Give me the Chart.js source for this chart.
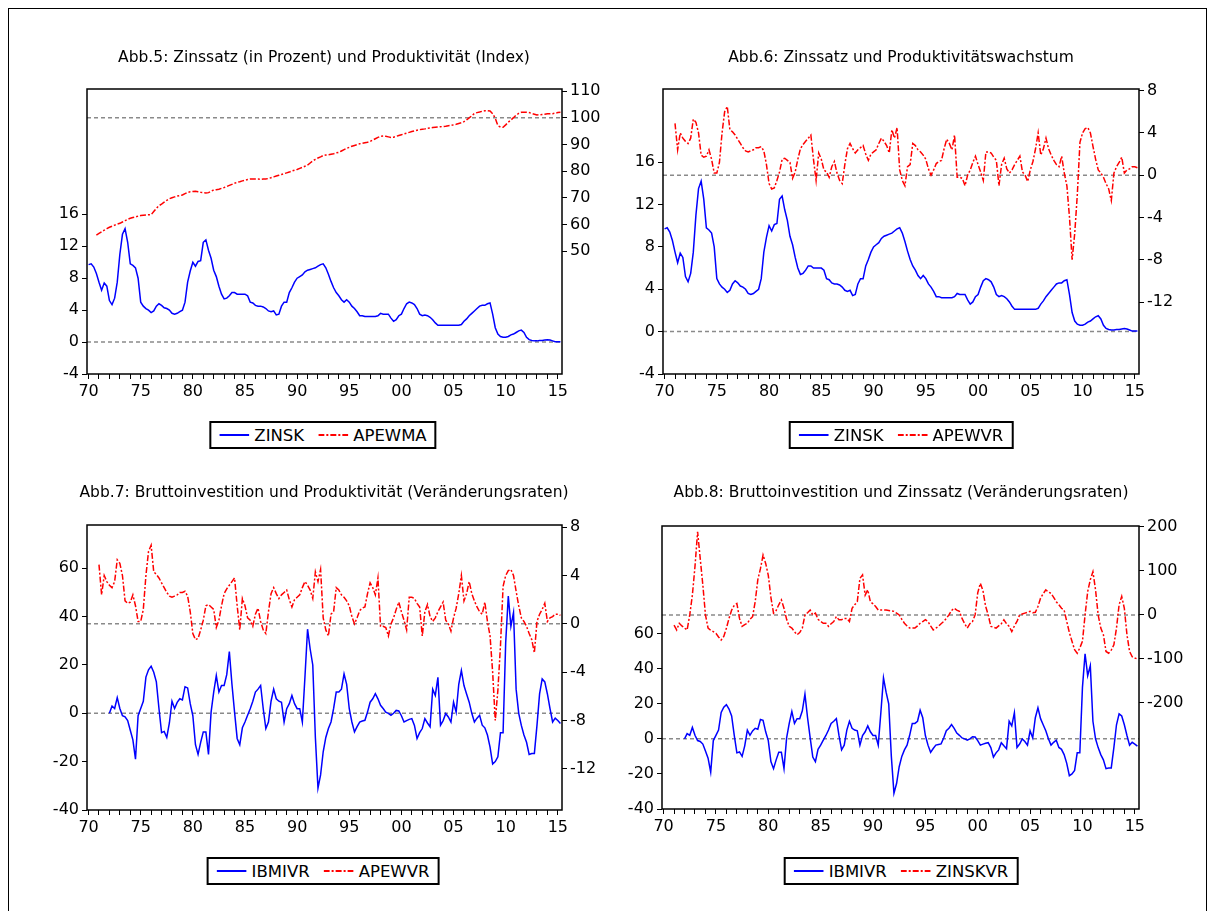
<!DOCTYPE html>
<html lang="de">
<head>
<meta charset="utf-8">
<title>Abb. 5 - 8</title>
<script src="https://cdn.jsdelivr.net/npm/chart.js@4.4.1/dist/chart.umd.min.js"></script>
<style>
    html, body { margin: 0; padding: 0; background: #fff; }
    body { position: relative; width: 1214px; height: 911px; overflow: hidden; font-family: "DejaVu Sans", sans-serif; color: #000; }
    #rahmen { position: absolute; left: 8px; top: 8px; width: 1197px; height: 1000px; border: 1px solid #000; }
    canvas { position: absolute; }
    .titel { position: absolute; font-size: 15.5px; line-height: 18px; white-space: nowrap; transform: translateX(-50%); }
    .legende { position: absolute; height: 24px; border: 2px solid #000; background: #fff; display: flex; align-items: center;
               padding: 0 8px; font-size: 16.5px; white-space: nowrap; transform: translateX(-50%); }
    .legende svg { margin-right: 5px; }
    .legende span + svg { margin-left: 14px; }
</style>
</head>
<body>
<div id="rahmen"></div>
<canvas id="abb5"></canvas>
<canvas id="abb6"></canvas>
<canvas id="abb7"></canvas>
<canvas id="abb8"></canvas>

<div class="titel" style="left:324px; top:48px;">Abb.5: Zinssatz (in Prozent) und Produktivität (Index)</div>
<div class="titel" style="left:901px; top:48px;">Abb.6: Zinssatz und Produktivitätswachstum</div>
<div class="titel" style="left:324px; top:483px;">Abb.7: Bruttoinvestition und Produktivität (Veränderungsraten)</div>
<div class="titel" style="left:901px; top:483px;">Abb.8: Bruttoinvestition und Zinssatz (Veränderungsraten)</div>

<div id="leg5" class="legende" style="left:323px; top:421px;"></div>
<div id="leg6" class="legende" style="left:901px; top:421px;"></div>
<div id="leg7" class="legende" style="left:323px; top:857px;"></div>
<div id="leg8" class="legende" style="left:901px; top:857px;"></div>

<script>
// Quartalswerte
// ZINSK ab 1970Q1
const zinsk = [
    9.7, 9.8, 9.4, 8.6,   7.5, 6.5, 7.4, 7.0,   5.2, 4.7, 5.5, 7.5,   11.0, 13.5, 14.2, 12.5,
    9.8, 9.6, 9.3, 8.0,   5.0, 4.5, 4.2, 4.0,   3.7, 3.9, 4.5, 4.8,   4.6, 4.3, 4.2, 4.0,
    3.6, 3.5, 3.6, 3.8,   4.0, 5.0, 7.5, 8.9,   10.0, 9.5, 10.1, 10.2, 12.5, 12.8, 11.5, 10.5,
    9.0, 8.2, 7.0, 6.0,   5.4, 5.5, 5.8, 6.2,   6.2, 6.0, 6.0, 6.0,   6.0, 5.8, 5.0, 4.9,
    4.6, 4.5, 4.5, 4.4,   4.2, 3.9, 3.8, 3.9,   3.4, 3.5, 4.5, 5.0,   5.0, 6.2, 6.8, 7.5,
    8.0, 8.2, 8.4, 8.8,   9.0, 9.1, 9.2, 9.3,   9.5, 9.7, 9.8, 9.3,   8.5, 7.6, 6.8, 6.2,
    5.8, 5.3, 5.0, 5.3,   5.0, 4.5, 4.2, 3.8,   3.3, 3.3, 3.2, 3.2,   3.2, 3.2, 3.2, 3.3,
    3.6, 3.5, 3.5, 3.5,   3.0, 2.6, 2.8, 3.3,   3.5, 4.2, 4.8, 5.0,   4.9, 4.7, 4.2, 3.5,
    3.3, 3.4, 3.3, 3.1,   2.8, 2.4, 2.1, 2.1,   2.1, 2.1, 2.1, 2.1,   2.1, 2.1, 2.1, 2.2,
    2.6, 2.9, 3.3, 3.6,   3.9, 4.2, 4.5, 4.6,   4.6, 4.8, 4.9, 3.5,   1.8, 1.0, 0.7, 0.6,
    0.6, 0.7, 0.9, 1.0,   1.2, 1.4, 1.5, 1.2,   0.6, 0.3, 0.2, 0.15,  0.15, 0.2, 0.2, 0.25,
    0.3, 0.25, 0.15, 0.05, 0.05, 0.05
];

// APEWMA ab 1970Q4
const apewma = [
    56.0,
    56.6, 57.2, 57.8, 58.4,   58.9, 59.3, 59.7, 60.1,   60.4, 60.9, 61.4, 61.9,   62.3, 62.6, 62.8, 63.1,
    63.3, 63.4, 63.5, 63.6,   63.6, 64.8, 66.0, 67.0,   67.6, 68.3, 69.0, 69.6,   70.0, 70.3, 70.6, 70.8,
    71.0, 71.5, 72.0, 72.2,   72.3, 72.4, 72.2, 72.0,   71.9, 71.8, 71.9, 72.4,   72.9, 73.0, 73.2, 73.5,
    73.8, 74.2, 74.6, 75.0,   75.4, 75.8, 76.0, 76.3,   76.5, 76.8, 77.0, 77.0,   77.0, 77.0, 76.9, 77.0,
    77.0, 77.2, 77.5, 77.8,   78.1, 78.4, 78.7, 79.0,   79.3, 79.6, 80.0, 80.3,   80.6, 81.0, 81.4, 81.8,
    82.2, 83.0, 83.8, 84.4,   84.9, 85.3, 85.8, 86.0,   86.1, 86.3, 86.5, 86.8,   87.0, 87.5, 88.0, 88.5,
    88.9, 89.3, 89.6, 89.9,   90.2, 90.4, 90.6, 90.8,   91.1, 91.6, 92.1, 92.6,   93.0, 93.1, 93.0, 92.8,
    92.6, 92.7, 93.0, 93.3,   93.6, 93.9, 94.2, 94.5,   94.8, 95.0, 95.3, 95.5,   95.7, 95.8, 96.0, 96.1,
    96.3, 96.4, 96.5, 96.6,   96.7, 96.8, 97.0, 97.1,   97.3, 97.5, 97.8, 98.1,   98.5, 99.2, 99.9, 100.7,
    101.6, 101.9, 102.1, 102.4, 102.6, 102.6, 102.5, 101.5, 99.8, 97.0, 96.5, 96.4, 97.3, 98.3, 99.1, 100.0,
    101.0, 101.6, 102.0, 102.0, 102.0, 101.9, 101.6, 101.3, 101.0, 101.1, 101.2, 101.3, 101.5, 101.5, 101.5, 101.7,
    101.9, 102.0
];

// APEWVR ab 1971Q1
const apewvr = [
    4.9, 2.4, 4.0, 3.5,   3.2, 3.0, 3.5, 5.3,   5.0, 4.0, 1.9, 1.7,   1.8, 2.4, 1.5, 0.2,
    0.2, 1.2, 4.0, 6.0,   6.5, 4.3, 4.1, 3.8,   3.4, 3.0, 2.6, 2.3,   2.2, 2.3, 2.4, 2.6,
    2.6, 2.7, 2.3, 1.0,   -0.8, -1.3, -1.2, -0.5, 0.3, 1.5, 1.6, 1.4,  1.2, -0.3, 0.3, 1.5,
    2.5, 2.9, 3.2, 3.5,   3.8, 1.5, -0.5, 2.1,  1.5, 0.5, 0.3, -0.2,   0.8, 1.3, 0.2, -0.5,
    -0.8, 1.0, 2.5, 3.0,  2.5, 2.1, 2.4, 2.6,   2.8, 2.0, 1.4, 2.0,   2.2, 2.4, 3.0, 3.5,
    3.2, 2.8, 2.1, 4.3,   3.5, 4.5, 0.5, -0.5,  -1.0, 0.8, 1.0, 3.0,  2.8, 2.4, 2.2, 1.9,
    1.5, 0.6, 0.0, 0.5,   1.1, 1.3, 1.4, 2.5,   3.4, 3.0, 2.4, 3.8,   -0.2, -0.2, -0.3, -1.0,
    0.0, 0.5, 1.2, 1.8,   1.0, 0.3, -0.5, 2.2,  2.2, 2.1, 1.7, 1.4,   -1.0, 1.0, 1.6, 0.6,
    0.2, 0.5, 1.0, 1.4,   1.8, 0.3, 0.0, -0.6,  0.5, 1.3, 2.5, 4.0,   1.9, 2.5, 3.5, 2.5,
    1.9, 1.4, 1.0, 0.8,   1.8, 0.2, -1.0, -4.0, -8.0, -5.5, -1.8, 3.1, 4.0, 4.4, 4.5, 4.0,
    2.7, 1.5, 0.5, 0.2,   -0.2, -0.8, -1.3, -2.4, 0.2, 0.8, 1.2, 1.7, 0.2, 0.5, 0.6, 0.8,
    0.8, 0.7
];

// IBMIVR ab 1972Q1
const ibmivr = [
    0.0, 3.0, 2.0, 6.5,   2.0, -1.0, -1.5, -3.0,   -7.0, -11.0, -19.0, -1.0,  2.0, 5.0, 15.0, 18.0,
    19.5, 17.0, 13.0, 2.0, -8.0, -7.5, -10.0, -4.0, 5.0, 2.0, 4.5, 6.0,       5.5, 11.0, 10.5, 4.0,
    -1.0, -13.0, -17.0, -12.0, -7.7, -7.7, -17.0, 0.5, 8.8, 15.6, 8.8, 11.5,  11.5, 16.0, 25.5, 12.0,
    0.5, -10.4, -13.0, -6.0, -3.6, -0.8, 1.9, 5.0,  8.8, 10.0, 11.5, 1.9,     -6.3, -3.6, 5.0, 10.0,
    6.0, 5.0, 4.6, -3.6,  1.9, 4.0, 7.4, 4.0,      1.9, 1.9, -3.6, 15.0,     34.8, 26.6, 20.0, -10.0,
    -31.0, -25.5, -15.9, -10.0, -6.3, -3.6, 2.0, 8.8, 8.8, 10.0, 16.3, 12.0,  1.9, -3.6, -7.7, -5.5,
    -3.6, -3.2, -2.9, 0.5, 4.6, 6.0, 8.1, 6.0,     3.3, 2.0, 0.5, 0.0,       -0.8, 0.0, 1.2, 1.0,
    -1.0, -3.6, -3.0, -2.5, -2.2, -5.0, -10.4, -8.0, -6.3, -2.2, -4.0, -5.6,  10.0, 7.4, 14.9, -4.9,
    -3.0, -0.1, -1.5, -3.6, 4.6, 0.5, 12.0, 17.7,  11.5, 8.0, 4.6, 0.0,       -3.6, -2.0, -0.8, -4.9,
    -6.0, -9.0, -14.0, -21.0, -20.0, -18.0, -8.0, -8.0, 29.3, 48.5, 36.0, 41.7, 10.0, 0.0, -5.0, -9.0,
    -12.0, -17.0, -16.6, -16.6, -5.0, 8.0, 14.2, 13.0, 8.0, 1.9, -3.6, -2.0,  -3.0, -4.2
];

// ZINSKVR ab 1971Q1
const zinskvr = [
    -23, -34, -19, -25,   -30, -34, 0, 45,      110, 189, 128, 68,    0, -30, -35, -38,
    -42, -50, -57, -49,   -30, -8, 11, 22,      26, -8, -26, -22,     -19, -10, -4, 30,
    80, 105, 136, 117,    90, 40, 4, 10,        23, 34, 15, -10,      -26, -30, -38, -45,
    -40, -30, 0, 5,       11, 0, 4, -10,        -15, -19, -19, -26,   -20, -15, -4, -11,
    -11, -8, -8, -15,     15, 23, 30, 83,       91, 45, 57, 30,       25, 19, 11, 11,
    11, 11, 10, 9,        8, 4, 0, -10,         -19, -25, -30, -30,   -30, -25, -19, -15,
    -11, -15, -25, -34,   -30, -26, -20, -15,   -8, 0, 10, 15,        11, 8, -8, -20,
    -30, -20, -15, 0,     50, 72, 55, 20,       0, -26, -28, -30,     -25, -20, -11, -20,
    -26, -38, -25, -15,   0, 2, 4, 6,           8, 5, 6, 19,          38, 48, 57, 52,
    49, 40, 30, 23,       15, 11, -15, -40,     -60, -79, -87, -75,   -60, 0, 53, 80,
    98, 57, 0, -30,       -45, -83, -87, -80,   -68, -30, 23, 42,     15, -45, -83, -95,
    -98, -100
];

// Achsenbeschriftungen
const jahresTicks = [1970, 1975, 1980, 1985, 1990, 1995, 2000, 2005, 2010, 2015];
const ticks5L = [-4, 0, 4, 8, 12, 16];
const ticks5R = [50, 60, 70, 80, 90, 100, 110];
const ticks6L = [-4, 0, 4, 8, 12, 16];
const ticks6R = [-12, -8, -4, 0, 4, 8];
const ticks7L = [-40, -20, 0, 20, 40, 60];
const ticks7R = [-12, -8, -4, 0, 4, 8];
const ticks8L = [-40, -20, 0, 20, 40, 60];
const ticks8R = [-200, -100, 0, 100, 200];

document.addEventListener('DOMContentLoaded', () => {

    const BLAU = '#0000ff';
    const ROT = '#ff0000';
    const STRICHPUNKT = [6, 2, 2, 2];
    const schrift = { family: 'DejaVu Sans', size: 16 };
    const X_MIN = 1969.85, X_MAX = 2015.4;
    const LINKS = 70, RECHTS = 80, OBEN = 30, UNTEN = 50;

    // jedes Jahr ein Strich, beschriftet alle 5 Jahre
    const alleJahre = [];
    for (let j = jahresTicks[0]; j <= jahresTicks[jahresTicks.length - 1]; j++) alleJahre.push(j);

    function punkte(werte, start) {
        return werte.map((v, i) => ({ x: start + i / 4, y: v }));
    }

    const rahmenPlugin = {
        id: 'rahmen',
        beforeDatasetsDraw(chart, args, opts) {
            const ctx = chart.ctx, a = chart.chartArea;
            ctx.save();
            ctx.strokeStyle = '#8a8a8a';
            ctx.lineWidth = 1.5;
            ctx.setLineDash([4, 3]);
            (opts.linien || []).forEach(([achse, wert]) => {
                const y = chart.scales[achse].getPixelForValue(wert);
                ctx.beginPath();
                ctx.moveTo(a.left, y);
                ctx.lineTo(a.right, y);
                ctx.stroke();
            });
            ctx.restore();
        },
        afterDraw(chart) {
            const ctx = chart.ctx, a = chart.chartArea;
            ctx.save();
            ctx.strokeStyle = '#000';
            ctx.lineWidth = 1.5;
            ctx.strokeRect(a.left, a.top, a.right - a.left, a.bottom - a.top);
            ctx.restore();
        }
    };

    function yAchse(pos, min, max, tickListe) {
        return {
            position: pos,
            min: min,
            max: max,
            afterBuildTicks: (ax) => { ax.ticks = tickListe.map(v => ({ value: v })); },
            afterFit: (ax) => { ax.width = pos === 'left' ? LINKS : RECHTS; },
            ticks: { font: schrift, color: '#000', padding: 3 },
            grid: { drawOnChartArea: false, drawTicks: true, tickLength: 5, color: '#000' },
            border: { display: false }
        };
    }

    function zeichne(id, box, datensaetze, links, rechts, nulllinien) {
        const canvas = document.getElementById(id);
        canvas.width = box.r - box.l + LINKS + RECHTS;
        canvas.height = box.b - box.t + OBEN + UNTEN;
        canvas.style.left = (box.l - LINKS) + 'px';
        canvas.style.top = (box.t - OBEN) + 'px';

        return new Chart(canvas, {
            type: 'line',
            data: { datasets: datensaetze },
            options: {
                responsive: false,
                animation: false,
                events: [],
                layout: { padding: { top: OBEN, left: 0, right: 0, bottom: 0 } },
                elements: { point: { radius: 0 }, line: { borderWidth: 1.5, tension: 0 } },
                scales: {
                    x: {
                        type: 'linear',
                        min: X_MIN,
                        max: X_MAX,
                        afterBuildTicks: (ax) => { ax.ticks = alleJahre.map(v => ({ value: v })); },
                        afterFit: (ax) => { ax.height = UNTEN; },
                        ticks: {
                            autoSkip: false, maxRotation: 0, padding: 3, font: schrift, color: '#000',
                            callback: (v) => jahresTicks.includes(v) ? String(v % 100).padStart(2, '0') : ''
                        },
                        grid: { drawOnChartArea: false, drawTicks: true, tickLength: 5, color: '#000' },
                        border: { display: false }
                    },
                    yL: yAchse('left', links[0], links[1], links[2]),
                    yR: yAchse('right', rechts[0], rechts[1], rechts[2])
                },
                plugins: {
                    legend: { display: false },
                    title: { display: false },
                    tooltip: { enabled: false },
                    rahmen: { linien: nulllinien }
                }
            },
            plugins: [rahmenPlugin]
        });
    }

    function blau(werte, start, achse) {
        return { data: punkte(werte, start), yAxisID: achse, borderColor: BLAU, borderWidth: 1.5 };
    }
    function rot(werte, start, achse) {
        return { data: punkte(werte, start), yAxisID: achse, borderColor: ROT, borderWidth: 1.5, borderDash: STRICHPUNKT };
    }

    // Abb.5
    zeichne('abb5', { l: 87, t: 89, r: 562, b: 374 },
        [blau(zinsk, 1970, 'yL'), rot(apewma, 1970.75, 'yR')],
        [-4, 31.7, ticks5L], [3.9, 110.75, ticks5R],
        [['yL', 0], ['yR', 100]]);

    // Abb.6
    zeichne('abb6', { l: 663, t: 89, r: 1139, b: 374 },
        [blau(zinsk, 1970, 'yL'), rot(apewvr, 1971, 'yR')],
        [-4, 22.9, ticks6L], [-18.8, 8.15, ticks6R],
        [['yL', 0], ['yR', 0]]);

    // Abb.7
    zeichne('abb7', { l: 87, t: 525, r: 562, b: 810 },
        [blau(ibmivr, 1972, 'yL'), rot(apewvr, 1971, 'yR')],
        [-40, 77.9, ticks7L], [-15.4, 8.18, ticks7R],
        [['yL', 0], ['yR', 0]]);

    // Abb.8
    zeichne('abb8', { l: 662, t: 526, r: 1139, b: 809 },
        [blau(ibmivr, 1972, 'yL'), rot(zinskvr, 1971, 'yR')],
        [-40, 121.3, ticks8L], [-441, 202, ticks8R],
        [['yL', 0], ['yR', 0]]);

    // Legenden
    function linie(farbe, gestrichelt) {
        const dash = gestrichelt ? ' stroke-dasharray="6 2 2 2"' : '';
        return '<svg width="30" height="6"><line x1="0" y1="3" x2="30" y2="3" stroke="' + farbe + '" stroke-width="2"' + dash + '/></svg>';
    }
    function legende(id, name1, name2) {
        document.getElementById(id).innerHTML =
            linie(BLAU, false) + '<span>' + name1 + '</span>' + linie(ROT, true) + '<span>' + name2 + '</span>';
    }
    legende('leg5', 'ZINSK', 'APEWMA');
    legende('leg6', 'ZINSK', 'APEWVR');
    legende('leg7', 'IBMIVR', 'APEWVR');
    legende('leg8', 'IBMIVR', 'ZINSKVR');
});
</script>
</body>
</html>
